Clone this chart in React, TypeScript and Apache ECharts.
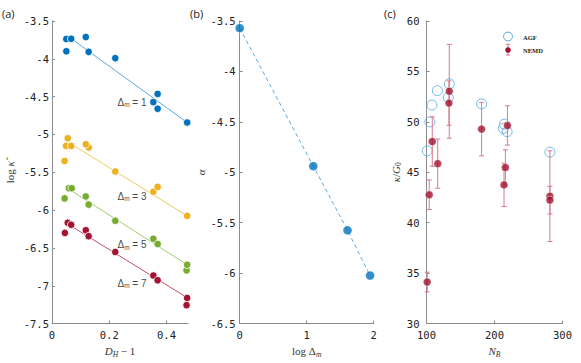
import React, { useEffect, useRef } from "react";
import * as echarts from "echarts";

// ---------- Panel (a): log kappa-hat vs D_H - 1 ----------
const blueX = [0.05, 0.067, 0.118, 0.05, 0.128, 0.221, 0.369, 0.354, 0.369, 0.472];
const blueY = [-3.738, -3.735, -3.712, -3.9, -3.908, -3.991, -4.464, -4.572, -4.66, -4.842];
const yellowX = [0.049, 0.128, 0.354, 0.055, 0.067, 0.118, 0.044, 0.221, 0.369, 0.472];
const yellowY = [-5.151, -5.172, -5.758, -5.05, -5.151, -5.129, -5.35, -5.49, -5.693, -6.076];
const greenX = [0.059, 0.354, 0.47, 0.069, 0.044, 0.118, 0.128, 0.221, 0.369, 0.472];
const greenY = [-5.711, -6.379, -6.796, -5.711, -5.845, -5.819, -5.927, -6.141, -6.448, -6.722];
const redX = [0.055, 0.354, 0.067, 0.045, 0.118, 0.128, 0.221, 0.369, 0.472, 0.47];
const redY = [-6.167, -6.865, -6.193, -6.301, -6.266, -6.344, -6.553, -6.927, -7.161, -7.256];

const fitX = [0.05, 0.472];
const blueFitY = [-3.686, -4.842];
const yellowFitY = [-5.086, -6.076];
const greenFitY = [-5.702, -6.722];
const redFitY = [-6.171, -7.157];

const dmLabels = ["1", "3", "5", "7"];
const dmLabelEndX = [0.332, 0.332, 0.332, 0.332];
const dmLabelY = [-4.575, -5.819, -6.458, -6.966];

// ---------- Panel (b): alpha vs log Delta_m ----------
const logDm = [0, 1.0986, 1.6094, 1.9459];
const alphaVals = [-3.571, -4.939, -5.575, -6.024];

// ---------- Panel (c): kappa/G0 vs N_B ----------
const agfN = [101, 105, 108, 116, 133.5, 132, 181, 213, 214.5, 218.5, 281.5];
const agfK = [47.13, 50.0, 51.67, 53.09, 53.78, 52.41, 51.79, 49.35, 49.77, 49.03, 47.0];
const nemdN = [101, 104, 108.5, 116.5, 133.5, 133, 181, 214, 216, 219, 281.5, 281.5];
const nemdK = [34.12, 42.77, 48.05, 45.86, 53.03, 51.86, 49.28, 43.75, 45.47, 49.64, 42.63, 42.24];
const nemdErr = [0.98, 1.47, 2.45, 2.44, 4.65, 2.2, 2.65, 2.15, 1.76, 1.95, 4.5, 1.37];

const BLUE = "#0072BD";
const YELLOW = "#EDB120";
const GREEN = "#77AC30";
const RED = "#A2142F";
const AXIS = "#8c8c8c";
const MONO = "DejaVu Sans Mono";
const SERIF = "Liberation Serif";

const zip = (xs: number[], ys: number[]) => xs.map((x, i) => [x, ys[i]]);

const serifRich = {
  n: { fontFamily: SERIF, fontSize: 11, color: "#333" },
  i: { fontFamily: SERIF, fontSize: 11, fontStyle: "italic", color: "#333" },
  s: { fontFamily: SERIF, fontSize: 7.5, fontStyle: "italic", color: "#333", padding: [6, 0, 0, 0] },
  su: { fontFamily: SERIF, fontSize: 7.5, color: "#333", padding: [6, 0, 0, 0] },
};

function xAxisBase(grid: number, min: number, max: number, interval: number, name: string, fmt: (v: number) => string, showMax: boolean) {
  return {
    gridIndex: grid,
    type: "value",
    min,
    max,
    interval,
    name,
    nameLocation: "middle",
    nameGap: 14,
    nameTextStyle: { rich: serifRich },
    axisLine: { show: true, lineStyle: { color: AXIS, width: 1 } },
    axisTick: { show: true, inside: true, length: 3, lineStyle: { color: AXIS } },
    axisLabel: { margin: 6, fontFamily: MONO, fontSize: 10.5, color: "#222", formatter: fmt, showMaxLabel: showMax },
    splitLine: { show: false },
  };
}

function yAxisBase(grid: number, min: number, max: number, interval: number, name: string, gap: number, margin: number, fmt: (v: number) => string) {
  return {
    gridIndex: grid,
    type: "value",
    min,
    max,
    interval,
    name,
    nameLocation: "middle",
    nameGap: gap,
    nameTextStyle: { rich: serifRich },
    axisLine: { show: true, lineStyle: { color: AXIS, width: 1 } },
    axisTick: { show: true, inside: true, length: 3, lineStyle: { color: AXIS } },
    axisLabel: { margin, fontFamily: MONO, fontSize: 10.5, color: "#222", formatter: fmt },
    splitLine: { show: false },
  };
}

const numFmt = (v: number) => String(Math.round(v * 10) / 10);

export default function App() {
  const ref = useRef<HTMLDivElement>(null);
  useEffect(() => {
    if (!ref.current) return;
    const chart = echarts.init(ref.current, null, { renderer: "svg" });

    const scatterA = (xs: number[], ys: number[], color: string) => ({
      type: "scatter",
      xAxisIndex: 0,
      yAxisIndex: 0,
      data: zip(xs, ys),
      symbol: "circle",
      symbolSize: 7.5,
      itemStyle: { color, borderColor: "#fff", borderWidth: 0.8, opacity: 1 },
      z: 3,
    });
    const fitA = (ys: number[], color: string) => ({
      type: "line",
      xAxisIndex: 0,
      yAxisIndex: 0,
      data: zip(fitX, ys),
      symbol: "none",
      lineStyle: { color, width: 1 },
      z: 2,
    });

    const option: any = {
      animation: false,
      backgroundColor: "#fff",
      grid: [
        { left: 52, top: 21, width: 136, height: 307 },
        { left: 239.7, top: 21, width: 134, height: 307 },
        { left: 426.5, top: 21, width: 136, height: 307 },
      ],
      xAxis: [
        xAxisBase(0, 0, 0.475, 0.2, "{i|D}{s|H}{n| − 1}", (v) => (v === 0 ? "0" : v.toFixed(1)), false),
        xAxisBase(1, 0, 2, 1, "{n|log Δ}{s|m}", (v) => String(v), true),
        xAxisBase(2, 100, 300, 100, "{i|N}{s|B}", (v) => String(v), true),
      ],
      yAxis: [
        yAxisBase(0, -7.5, -3.5, 0.5, "{n|log }{i|κ̂}", 37, 3, numFmt),
        yAxisBase(1, -6.5, -3.5, 0.5, "{i|α}", 32, 4, numFmt),
        yAxisBase(2, 30, 60, 5, "{i|κ}{n|/}{i|G}{su|0}", 21, 7, numFmt),
      ],
      series: [
        fitA(blueFitY, "#5aaae3"),
        fitA(yellowFitY, "#f4c95a"),
        fitA(greenFitY, "#a3cc6e"),
        fitA(redFitY, "#c65169"),
        scatterA(blueX, blueY, BLUE),
        scatterA(yellowX, yellowY, YELLOW),
        scatterA(greenX, greenY, GREEN),
        scatterA(redX, redY, RED),
        {
          type: "scatter",
          xAxisIndex: 0,
          yAxisIndex: 0,
          data: zip(dmLabelEndX, dmLabelY),
          symbolSize: 1,
          itemStyle: { color: "rgba(0,0,0,0)" },
          z: 4,
          label: {
            show: true,
            position: "left",
            distance: 0,
            formatter: (p: any) => `{d|Δ}{s|m}{d| = ${dmLabels[p.dataIndex]}}`,
            rich: {
              d: { fontFamily: "Liberation Sans", fontSize: 10, color: "#111" },
              s: { fontFamily: "Liberation Sans", fontSize: 6.5, color: "#111", padding: [5, 0, 0, 0] },
            },
          },
        },
        // panel b
        {
          type: "line",
          xAxisIndex: 1,
          yAxisIndex: 1,
          data: zip(logDm, alphaVals),
          symbol: "none",
          lineStyle: { color: "#5aaae3", width: 1, type: [4, 3] },
          z: 2,
        },
        {
          type: "scatter",
          xAxisIndex: 1,
          yAxisIndex: 1,
          data: zip(logDm, alphaVals),
          symbol: "circle",
          symbolSize: 9,
          itemStyle: { color: BLUE, borderColor: "#fff", borderWidth: 0.6 },
          z: 3,
        },
        // panel c
        {
          type: "scatter",
          name: "AGF",
          xAxisIndex: 2,
          yAxisIndex: 2,
          data: zip(agfN, agfK),
          symbol: "circle",
          symbolSize: 10,
          itemStyle: { color: "rgba(0,0,0,0)", borderColor: "#4da6e6", borderWidth: 1 },
          z: 2,
        },
        {
          type: "custom",
          xAxisIndex: 2,
          yAxisIndex: 2,
          data: nemdN.map((n, i) => [n, nemdK[i], nemdErr[i]]),
          z: 3,
          renderItem: (_params: any, api: any) => {
            const x = api.value(0);
            const y = api.value(1);
            const e = api.value(2);
            const top = api.coord([x, y + e]);
            const bot = api.coord([x, y - e]);
            const hw = 2.5;
            const st = { stroke: "#d8798b", lineWidth: 1 };
            return {
              type: "group",
              children: [
                { type: "line", shape: { x1: top[0], y1: top[1], x2: bot[0], y2: bot[1] }, style: st },
                { type: "line", shape: { x1: top[0] - hw, y1: top[1], x2: top[0] + hw, y2: top[1] }, style: st },
                { type: "line", shape: { x1: bot[0] - hw, y1: bot[1], x2: bot[0] + hw, y2: bot[1] }, style: st },
              ],
            };
          },
        },
        {
          type: "scatter",
          name: "NEMD",
          xAxisIndex: 2,
          yAxisIndex: 2,
          data: zip(nemdN, nemdK),
          symbol: "circle",
          symbolSize: 8,
          itemStyle: { color: RED, borderColor: "#fff", borderWidth: 0.6 },
          z: 4,
        },
      ],
      graphic: [
        { type: "text", left: 2, top: 8, style: { text: "(a)", fontFamily: "Open Sans", fontSize: 11, fill: "#222" } },
        { type: "text", left: 190, top: 8, style: { text: "(b)", fontFamily: "Open Sans", fontSize: 11, fill: "#222" } },
        { type: "text", left: 384, top: 8, style: { text: "(c)", fontFamily: "Open Sans", fontSize: 11, fill: "#222" } },
        // legend
        { type: "circle", shape: { cx: 508, cy: 36.5, r: 4.4 }, style: { fill: "none", stroke: "#4da6e6", lineWidth: 1 } },
        { type: "line", shape: { x1: 508, y1: 44.3, x2: 508, y2: 55 }, style: { stroke: "#d8798b", lineWidth: 1 } },
        { type: "line", shape: { x1: 506, y1: 44.3, x2: 510, y2: 44.3 }, style: { stroke: "#d8798b", lineWidth: 1 } },
        { type: "line", shape: { x1: 506, y1: 55, x2: 510, y2: 55 }, style: { stroke: "#d8798b", lineWidth: 1 } },
        { type: "circle", shape: { cx: 508, cy: 50, r: 2.8 }, style: { fill: RED } },
        { type: "text", x: 523, y: 37, style: { text: "AGF", fontFamily: SERIF, fontWeight: "bold", fontSize: 6.5, fill: "#222", verticalAlign: "middle" } },
        { type: "text", x: 523, y: 50, style: { text: "NEMD", fontFamily: SERIF, fontWeight: "bold", fontSize: 6.5, fill: "#222", verticalAlign: "middle" } },
      ],
    };
    chart.setOption(option);
    return () => chart.dispose();
  }, []);
  return <div ref={ref} style={{ position: "absolute", left: 0, top: 0, width: 581, height: 363 }} />;
}
